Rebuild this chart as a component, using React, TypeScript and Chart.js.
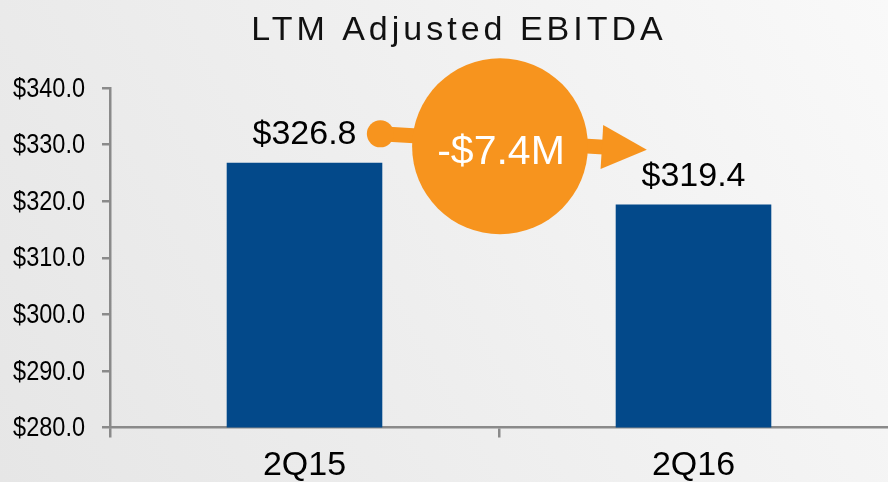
import React, { useEffect, useRef } from 'react';
import { Chart, registerables } from 'chart.js';

Chart.register(...registerables);

// ---- data ----
const categories = ['2Q15', '2Q16'];
const ebitda = [326.8, 319.4];
const valueLabels = ['$326.8', '$319.4'];
const changeLabel = '-$7.4M';
const titleText = 'LTM Adjusted EBITDA';
const yMin = 280;
const yMax = 340;
const yStep = 10;

// annotation anchors in data units (category index, value)
const dotAnchor = [0.195, 331.9];
const circleAnchor = [0.5, 329.7];
const arrowTipAnchor = [0.88, 329.1];

const SANS = "'Liberation Sans', Arial, sans-serif";
const BAR = '#03498a';
const ORANGE = '#f7941e';
const AXIS = '#8a8a8a';

const fmtTick = (v: number) => '$' + Number(v).toFixed(1);

const bgPlugin = {
  id: 'bg',
  beforeDraw(chart: any) {
    const { ctx, width, height } = chart;
    ctx.save();
    const g = ctx.createLinearGradient(0, height, width, 0);
    g.addColorStop(0, '#e6e6e6');
    g.addColorStop(0.5, '#efefef');
    g.addColorStop(1, '#f9f9f9');
    ctx.fillStyle = g;
    ctx.fillRect(0, 0, width, height);
    ctx.restore();
  },
};

// condensed y-axis tick labels, positioned from the y scale's own ticks
const narrowYLabels = {
  id: 'narrowYLabels',
  afterDraw(chart: any) {
    const { ctx } = chart;
    const ys = chart.scales.y;
    const right = ys.right - 8 - 17;
    ctx.save();
    ctx.font = `28px ${SANS}`;
    ctx.fillStyle = '#000';
    ctx.textAlign = 'right';
    ctx.textBaseline = 'middle';
    ys.ticks.forEach((t: any, i: number) => {
      const y = ys.getPixelForTick(i);
      ctx.save();
      ctx.translate(right, y + 1);
      ctx.scale(0.84, 1);
      ctx.fillText(fmtTick(t.value), 0, 0);
      ctx.restore();
    });
    ctx.restore();
  },
};

const titlePlugin = {
  id: 'customTitle',
  afterDraw(chart: any) {
    const { ctx } = chart;
    ctx.save();
    ctx.font = `34px ${SANS}`;
    (ctx as any).letterSpacing = '4px';
    ctx.fillStyle = '#111';
    ctx.textBaseline = 'alphabetic';
    ctx.textAlign = 'left';
    const w = ctx.measureText(titleText).width;
    ctx.fillText(titleText, 459 - w / 2, 40);
    ctx.restore();
  },
};

const valueLabelPlugin = {
  id: 'valueLabels',
  afterDatasetsDraw(chart: any) {
    const { ctx } = chart;
    const meta = chart.getDatasetMeta(0);
    ctx.save();
    ctx.font = `34px ${SANS}`;
    ctx.fillStyle = '#000';
    ctx.textAlign = 'center';
    ctx.textBaseline = 'alphabetic';
    meta.data.forEach((bar: any, i: number) => {
      ctx.fillText(valueLabels[i], bar.x, bar.y - 19);
    });
    ctx.restore();
  },
};

const changePlugin = {
  id: 'change',
  afterDatasetsDraw(chart: any) {
    const { ctx } = chart;
    const xs = chart.scales.x;
    const ys = chart.scales.y;
    const p0 = xs.getPixelForValue(0);
    const p1 = xs.getPixelForValue(1);
    const cw = p1 - p0;
    const px = (c: number) => p0 + c * cw;
    const dx = px(dotAnchor[0]);
    const dy = ys.getPixelForValue(dotAnchor[1]);
    const tx = px(arrowTipAnchor[0]);
    const ty = ys.getPixelForValue(arrowTipAnchor[1]);
    const cx = px(circleAnchor[0]) + 1;
    const cy = ys.getPixelForValue(circleAnchor[1]);
    const r = cw * 0.226;

    const len = Math.hypot(tx - dx, ty - dy);
    const ux = (tx - dx) / len;
    const uy = (ty - dy) / len;
    const nx = -uy;
    const ny = ux;
    const headLen = 45;
    const headHalf = 22;
    const bx = tx - ux * headLen;
    const by = ty - uy * headLen;

    ctx.save();
    ctx.fillStyle = ORANGE;
    ctx.strokeStyle = ORANGE;
    ctx.lineWidth = 15;
    ctx.lineCap = 'butt';
    ctx.beginPath();
    ctx.moveTo(dx, dy);
    ctx.lineTo(bx + ux * 2, by + uy * 2);
    ctx.stroke();
    ctx.beginPath();
    ctx.arc(dx, dy, 13.5, 0, Math.PI * 2);
    ctx.fill();
    ctx.beginPath();
    ctx.arc(cx, cy, r, 0, Math.PI * 2);
    ctx.fill();
    ctx.beginPath();
    ctx.moveTo(tx, ty);
    ctx.lineTo(bx + nx * headHalf, by + ny * headHalf);
    ctx.lineTo(bx - nx * headHalf, by - ny * headHalf);
    ctx.closePath();
    ctx.fill();
    ctx.fillStyle = '#ffffff';
    ctx.font = `41px ${SANS}`;
    ctx.textAlign = 'center';
    ctx.textBaseline = 'alphabetic';
    ctx.fillText(changeLabel, cx + 1, cy + 18);
    ctx.restore();
  },
};

export default function App() {
  const ref = useRef<HTMLCanvasElement | null>(null);

  useEffect(() => {
    if (!ref.current) return;
    const chart = new Chart(ref.current, {
      type: 'bar',
      data: {
        labels: categories,
        datasets: [
          {
            data: ebitda,
            backgroundColor: BAR,
            borderWidth: 0,
            barPercentage: 0.8,
            categoryPercentage: 0.5,
          },
        ],
      },
      options: {
        responsive: false,
        animation: false,
        events: [],
        layout: { padding: { top: 88, right: 0, bottom: 0, left: 0 } },
        plugins: {
          legend: { display: false },
          tooltip: { enabled: false },
          title: { display: false },
        },
        scales: {
          x: {
            type: 'category',
            offset: true,
            grid: {
              display: true,
              offset: true,
              drawOnChartArea: false,
              drawTicks: true,
              tickLength: 10,
              color: (c: any) => (c.type !== 'tick' ? 'rgba(0,0,0,0)' : AXIS),
              lineWidth: 2.5,
            },
            border: { display: true, color: AXIS, width: 2.5 },
            ticks: {
              color: '#000',
              padding: 8,
              font: { family: SANS, size: 34 },
              maxRotation: 0,
            },
            afterFit: (s: any) => {
              s.height = 54.5;
            },
          },
          y: {
            min: yMin,
            max: yMax,
            grid: {
              display: true,
              drawOnChartArea: false,
              drawTicks: true,
              tickLength: 8,
              color: AXIS,
              lineWidth: 2.5,
            },
            border: { display: true, color: AXIS, width: 2.5 },
            ticks: {
              stepSize: yStep,
              color: 'rgba(0,0,0,0)',
              padding: 17,
              font: { family: SANS, size: 28 },
              callback: (v: any) => fmtTick(v),
            },
            afterFit: (s: any) => {
              s.width = 110;
            },
          },
        },
      },
      plugins: [bgPlugin, valueLabelPlugin, changePlugin, narrowYLabels, titlePlugin],
    });
    return () => chart.destroy();
  }, []);

  return (
    <div style={{ position: 'absolute', left: 0, top: 0, width: 888, height: 482 }}>
      <canvas ref={ref} width={888} height={482} style={{ display: 'block' }} />
    </div>
  );
}
